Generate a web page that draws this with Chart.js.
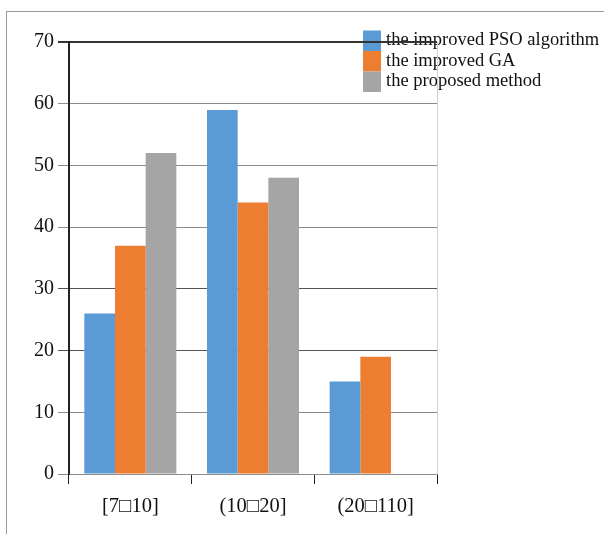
<!DOCTYPE html>
<html lang="en">
<head>
    <meta charset="UTF-8" />
    <title>Bar chart</title>
    <script src="https://cdn.jsdelivr.net/npm/chart.js"></script>
    <style>
        html, body { margin: 0; padding: 0; background: #fff; }
        #wrap { position: relative; width: 604px; height: 534px; }
        /* frame lines of the original figure */
        #frame {
            position: absolute; left: 6px; top: 11px; right: 0; bottom: 0;
            border-top: 1px solid #9a9a9a; border-left: 1px solid #9a9a9a;
        }
        canvas { position: absolute; left: 0; top: 0; }
    </style>
</head>
<body>
    <div id="wrap">
        <div id="frame"></div>
        <canvas id="barChart" width="604" height="534"></canvas>
    </div>
    <script>
        const categories = ["[7\u25A110]", "(10\u25A120]", "(20\u25A1110]"];
        const seriesNames = ["the improved PSO algorithm", "the improved GA", "the proposed method"];
        const psoValues = [26, 59, 15];
        const gaValues = [37, 44, 19];
        const proposedValues = [52, 48, null];
        const yTicks = [0, 10, 20, 30, 40, 50, 60, 70];

        const serif = "'Liberation Serif', 'Times New Roman', serif";
        const colors = ["#5b9bd5", "#ed7d31", "#a5a5a5"];

        // legend sits over the plot, top right; drawn first so the top grid line crosses it
        const legendPlugin = {
            id: "cornerLegend",
            beforeDraw(chart) {
                const ctx = chart.ctx;
                ctx.save();
                ctx.font = "18.5px " + serif;
                ctx.textBaseline = "middle";
                chart.data.datasets.forEach((ds, i) => {
                    const y = 30.5 + i * 20.5;
                    ctx.fillStyle = ds.backgroundColor;
                    ctx.fillRect(363, y, 18, 20.5);
                    ctx.fillStyle = "#111";
                    ctx.fillText(ds.label, 386, y + 10);
                });
                ctx.restore();
            },
            afterDraw(chart) {
                const ctx = chart.ctx;
                const area = chart.chartArea;
                ctx.save();
                // light right border of the plot area
                ctx.strokeStyle = "#d0d0d0";
                ctx.lineWidth = 1;
                ctx.beginPath();
                ctx.moveTo(area.right + 0.5, area.top);
                ctx.lineTo(area.right + 0.5, area.bottom);
                ctx.stroke();
                ctx.restore();
            }
        };

        new Chart(document.getElementById("barChart"), {
            type: "bar",
            data: {
                labels: categories,
                datasets: [
                    { label: seriesNames[0], data: psoValues, backgroundColor: colors[0] },
                    { label: seriesNames[1], data: gaValues, backgroundColor: colors[1] },
                    { label: seriesNames[2], data: proposedValues, backgroundColor: colors[2] },
                ],
            },
            options: {
                responsive: false,
                animation: false,
                categoryPercentage: 0.75,
                barPercentage: 1.0,
                layout: { padding: { left: 0, top: 42, right: 167, bottom: 0 } },
                plugins: {
                    legend: { display: false },
                    tooltip: { enabled: false },
                },
                scales: {
                    x: {
                        afterFit: (s) => { s.height = 60; },
                        grid: {
                            drawOnChartArea: false,
                            drawTicks: true,
                            tickLength: 10,
                            color: "#222",
                            offset: true,
                        },
                        border: { color: "#8c8c8c", width: 1 },
                        ticks: {
                            color: "#111",
                            font: { family: serif, size: 20.5 },
                            padding: 10,
                        },
                    },
                    y: {
                        min: 0,
                        max: 70,
                        afterFit: (s) => { s.width = 69; },
                        afterBuildTicks: (s) => { s.ticks = yTicks.map(v => ({ value: v })); },
                        grid: {
                            tickLength: 11,
                            color: (c) => {
                                const v = c.tick ? c.tick.value : 0;
                                if (v === 70) return "#333";
                                if (v === 30 || v === 20) return "#555";
                                return "#8c8c8c";
                            },
                            lineWidth: (c) => (c.tick && c.tick.value === 70 ? 2 : 1),
                        },
                        border: { color: "#222", width: 2 },
                        ticks: {
                            color: "#111",
                            font: { family: serif, size: 20 },
                            padding: 4,
                        },
                    },
                },
            },
            plugins: [legendPlugin],
        });
    </script>
</body>
</html>
